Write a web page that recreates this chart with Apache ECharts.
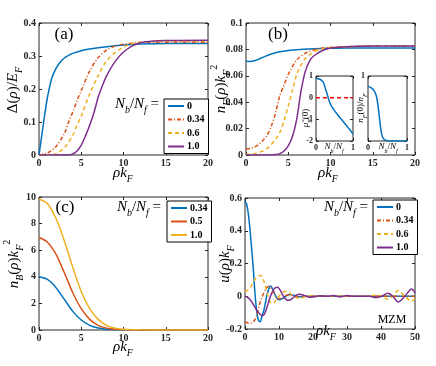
<!DOCTYPE html>
<html>
<head>
<meta charset="UTF-8">
<title>MZM profiles</title>
<style>
  body { margin:0; padding:0; background:#fff; }
  #main { width:436px; height:366px; }
</style>
</head>
<body>
<div id="main"></div>
<script src="https://cdn.jsdelivr.net/npm/echarts@6/dist/echarts.min.js"></script>
<script>
var SERIF = 'Liberation Serif';
var BLUE = '#0072BD', ORANGE = '#D95319', YELLOW = '#EDB120', PURPLE = '#7E2F8E';

// (a) gap profile Delta(rho)/E_F
var aX0 = [0,0.25,0.5,0.75,1,1.5,2,2.5,3,3.5,4,5,6,8,10,12,15,20];
var aY0 = [0,0.045,0.09,0.135,0.175,0.232,0.262,0.281,0.294,0.302,0.308,0.316,0.321,0.328,0.333,0.336,0.338,0.338];
var aX1 = [0,1,2,3,3.5,4,4.5,5,6,7,8,9,10,11,12,14,16,20];
var aY1 = [0,0.006,0.025,0.065,0.1,0.13,0.165,0.195,0.255,0.295,0.318,0.33,0.336,0.339,0.341,0.342,0.342,0.342];
var aX2 = [0,1,2,3,4,4.5,5,6,7,8,9,10,11,12,14,16,20];
var aY2 = [0,0,0.004,0.022,0.06,0.09,0.118,0.185,0.24,0.285,0.31,0.327,0.337,0.342,0.344,0.345,0.345];
var aX3 = [0,1,2,3,3.5,4,4.5,5,5.5,6,6.5,7,7.5,8,9,10,11,12,13,15,20];
var aY3 = [0,0,0,0,0,0.003,0.012,0.03,0.058,0.09,0.128,0.175,0.21,0.24,0.283,0.312,0.33,0.34,0.344,0.347,0.348];

// (b) fermion density n_F(rho) k_F^2
var bX0 = [0,0.5,1,1.5,2,3,4,5,6,8,10,12,15,20];
var bY0 = [0.071,0.0708,0.0714,0.0726,0.074,0.0765,0.0782,0.0792,0.0798,0.0804,0.0808,0.081,0.081,0.081];
var bX1 = [0,0.5,1,1.5,2,2.5,3,3.5,4,4.5,5,5.5,6,7,8,9,10,12,15,20];
var bY1 = [0.0045,0.005,0.006,0.008,0.011,0.015,0.022,0.032,0.045,0.053,0.061,0.067,0.072,0.077,0.0795,0.081,0.0815,0.082,0.0825,0.0825];
var bX2 = [0,1,2,2.5,3,3.5,4,4.5,5,5.5,6,6.5,7,8,9,10,12,15,20];
var bY2 = [0.0005,0.001,0.003,0.005,0.008,0.012,0.017,0.026,0.037,0.049,0.061,0.068,0.073,0.078,0.0805,0.0815,0.082,0.0825,0.0825];
var bX3 = [0,3,3.5,4,4.5,5,5.5,6,6.5,7,7.5,8,9,10,11,12,15,20];
var bY3 = [0,0,0.0003,0.001,0.003,0.007,0.014,0.027,0.048,0.063,0.071,0.075,0.079,0.081,0.0817,0.082,0.0825,0.0825];

// insets of (b): mu_F(0) and n_F(0)/n_F versus N_b/N_f
var i1X = [0,0.05,0.1,0.15,0.2,0.25,0.3,0.35,0.4,0.5,0.6,0.7,0.8,0.9,1];
var i1Y = [0.88,0.87,0.85,0.8,0.7,0.45,0.18,-0.12,-0.33,-0.6,-0.82,-1.03,-1.24,-1.45,-1.68];
var i1RefX = [0,1];
var i1RefY = [0,0];
var i2X = [0,0.05,0.1,0.15,0.2,0.23,0.26,0.29,0.32,0.35,0.38,0.42,0.5,0.6,1];
var i2Y = [0.84,0.83,0.81,0.78,0.72,0.65,0.53,0.38,0.22,0.11,0.05,0.02,0.005,0,0];

// (c) boson density n_B(rho) k_F^2
var cX = [0,1,2,3,4,5,6,7,8,9,10,12,15,20];
var cY0 = [4.0,3.8,3.2,2.3,1.4,0.75,0.35,0.15,0.06,0.02,0.01,0,0,0];
var cY1 = [6.95,6.6,5.7,4.3,2.8,1.6,0.8,0.35,0.14,0.05,0.02,0,0,0];
var cY2 = [9.85,9.5,8.4,6.7,4.7,2.9,1.6,0.8,0.35,0.14,0.05,0.01,0,0];

// (d) MZM wave function u(rho) k_F
var dX0 = [0,0.5,1,1.5,2,2.5,3,3.5,4,4.5,5,5.5,6,6.5,7,7.5,8,8.5,9,9.5,10,11,12,13,14,15,16,18,20,25,30,35,40,45,50];
var dY0 = [0.58,0.56,0.5,0.4,0.28,0.15,0.0,-0.1,-0.15,-0.155,-0.12,-0.09,-0.04,0.01,0.045,0.062,0.05,0.025,0.002,-0.015,-0.022,-0.015,0,0.01,0.008,0.002,-0.003,0,0,0,0,0,0,0,0];
var dY1 = [-0.155,-0.16,-0.163,-0.165,-0.163,-0.155,-0.14,-0.11,-0.07,-0.035,-0.005,0.02,0.04,0.055,0.06,0.055,0.04,0.02,0.0,-0.012,-0.015,-0.008,0.005,0.008,0.003,-0.002,-0.003,0,0,0,0,0,0,0,0];
var dX2 = [0,1,2,3,4,4.5,5,5.5,6,6.5,7,7.5,8,8.5,9,10,11,12,13,14,15,16,17,18,20,22,25,30,35,36.7,38.5,40.2,42,43.5,45,47,49,50];
var dY2 = [0.028,0.04,0.07,0.105,0.125,0.127,0.12,0.095,0.06,0.02,-0.015,-0.038,-0.045,-0.04,-0.028,0.0,0.022,0.03,0.02,0.005,-0.008,-0.012,-0.008,0,0.004,0,0,0,0,0,0.008,0,-0.018,0,0.035,0,-0.03,-0.015];
var dX3 = [0,1,2,3,4,5,5.5,6,6.5,7,7.5,8,8.5,9,9.5,10,10.5,11,12,12.5,13,14,15,16,17,18,19,20,22,24,26,28,30,32,35,36.7,38.5,40.2,42,43.5,45,47,49,50];
var dY3 = [0,-0.01,-0.035,-0.07,-0.1,-0.117,-0.115,-0.095,-0.065,-0.03,0.0,0.025,0.042,0.052,0.055,0.048,0.032,0.012,-0.018,-0.025,-0.025,-0.012,0.005,0.012,0.008,0,-0.006,-0.005,0.003,0,0.004,-0.003,0.004,0,0,0,-0.008,0,0.018,0,-0.035,0,0.045,0.02];

function zip(xs, ys) {
  return xs.map(function (x, i) { return [x, ys[i]]; });
}

var grids = [
  {left: 39, top: 23, width: 169, height: 132},   // a
  {left: 246, top: 23, width: 169, height: 132},  // b
  {left: 39, top: 197, width: 169, height: 133},  // c
  {left: 245, top: 198, width: 170, height: 131}, // d
  {left: 316, top: 76, width: 37, height: 65},    // inset 1
  {left: 368, top: 76, width: 39, height: 65}     // inset 2
].map(function (g) {
  return Object.assign({show: true, borderColor: '#262626', borderWidth: 1, backgroundColor: '#fff', containLabel: false}, g);
});

var xAxes = [], yAxes = [];
function frame(gi, xr, yr, fs, xFmt, yFmt) {
  var tick = {inside: true, length: 3, lineStyle: {color: '#262626', width: 1}};
  var lab = {fontFamily: SERIF, fontWeight: 'bold', fontSize: fs, color: '#262626', margin: 3};
  var base = {gridIndex: gi, type: 'value', axisLine: {show: false, onZero: false}, splitLine: {show: false}, axisTick: tick};
  xAxes.push(Object.assign({}, base, {position: 'bottom', min: xr[0], max: xr[1], interval: xr[2],
    axisLabel: Object.assign({formatter: xFmt}, lab)}));
  xAxes.push(Object.assign({}, base, {position: 'top', min: xr[0], max: xr[1], interval: xr[2], axisLabel: {show: false}}));
  yAxes.push(Object.assign({}, base, {position: 'left', min: yr[0], max: yr[1], interval: yr[2],
    axisLabel: Object.assign({formatter: yFmt}, lab)}));
  yAxes.push(Object.assign({}, base, {position: 'right', min: yr[0], max: yr[1], interval: yr[2], axisLabel: {show: false}}));
  return {x: xAxes.length - 2, y: yAxes.length - 2};
}

var A = frame(0, [0, 20, 5], [0, 0.4, 0.1], 10);
var B = frame(1, [0, 20, 5], [0, 0.1, 0.02], 10);
var C = frame(2, [0, 20, 5], [0, 10, 2], 10);
var D = frame(3, [0, 50, 10], [-0.2, 0.6, 0.2], 10);
var I1 = frame(4, [0, 1, 1], [-2, 1, 1], 8);
var I2 = frame(5, [0, 1, 1], [0, 1, 1], 8, null, function (v) { return v === 0 ? '' : v; });

var dashDot = [4, 2, 1, 2];
var dashed = [4, 3];
function line(name, ax, data, color, type) {
  return {
    name: name, type: 'line', xAxisIndex: ax.x, yAxisIndex: ax.y, data: data,
    symbol: 'none', smooth: 0.3, animation: false,
    lineStyle: {color: color, width: 1.5, type: type || 'solid'},
    itemStyle: {color: color}
  };
}

var series = [
  line('a:0', A, zip(aX0, aY0), BLUE),
  line('a:0.34', A, zip(aX1, aY1), ORANGE, dashDot),
  line('a:0.6', A, zip(aX2, aY2), YELLOW, dashed),
  line('a:1.0', A, zip(aX3, aY3), PURPLE),
  line('b:0', B, zip(bX0, bY0), BLUE),
  line('b:0.34', B, zip(bX1, bY1), ORANGE, dashDot),
  line('b:0.6', B, zip(bX2, bY2), YELLOW, dashed),
  line('b:1.0', B, zip(bX3, bY3), PURPLE),
  line('i1', I1, zip(i1X, i1Y), BLUE),
  line('i1ref', I1, zip(i1RefX, i1RefY), '#FF0000', [4, 3]),
  line('i2', I2, zip(i2X, i2Y), BLUE),
  line('c:0.34', C, zip(cX, cY0), BLUE),
  line('c:0.5', C, zip(cX, cY1), ORANGE),
  line('c:1.0', C, zip(cX, cY2), YELLOW),
  line('d:0', D, zip(dX0, dY0), BLUE),
  line('d:0.34', D, zip(dX0, dY1), ORANGE, dashDot),
  line('d:0.6', D, zip(dX2, dY2), YELLOW, dashed),
  line('d:1.0', D, zip(dX3, dY3), PURPLE)
];

function legendAt(names, left, top) {
  return {
    data: names, orient: 'vertical', left: left, top: top,
    itemWidth: 16, itemHeight: 8, itemGap: 3.5, selectedMode: false,
    padding: [2, 4, 2, 3], borderColor: '#000', borderWidth: 1, backgroundColor: '#fff',
    itemStyle: {opacity: 0},
    textStyle: {fontFamily: SERIF, fontWeight: 'bold', fontSize: 10, color: '#000', padding: [0, 0, 0, -2]},
    formatter: function (n) { return n.split(':')[1]; }
  };
}

function richSet(fs) {
  var lh = Math.round(fs * 1.5);
  var base = {fontFamily: SERIF, fontSize: fs, lineHeight: lh, color: '#000'};
  var small = Math.round(fs * 0.68);
  return {
    i: Object.assign({}, base, {fontStyle: 'italic'}),
    r: Object.assign({}, base),
    s: {fontFamily: SERIF, fontStyle: 'italic', fontSize: small, lineHeight: small + 1, verticalAlign: 'bottom', color: '#000'},
    p: {fontFamily: SERIF, fontSize: small, lineHeight: small + 1, verticalAlign: 'top', color: '#000'}
  };
}

function label(text, x, y, fs, rotate) {
  return {
    type: 'text', x: x, y: y, rotation: rotate ? Math.PI / 2 : 0, z: 100,
    style: {text: text, rich: richSet(fs), align: 'center', verticalAlign: 'middle'}
  };
}
function plain(text, x, y, fs) {
  return {
    type: 'text', x: x, y: y, z: 100,
    style: {text: text, fontFamily: SERIF, fontSize: fs, fill: '#000', align: 'center', verticalAlign: 'middle'}
  };
}

var RHO_KF = '{i|ρk}{s|F}';
var NBNF = '{i|N}{s|b}{r|/}{i|N}{s|f}';

var graphics = [
  label('{r|Δ(}{i|ρ}{r|)/}{i|E}{s|F}', 13, 90, 15, true),
  label('{i|n}{s|F}{r|(}{i|ρ}{r|)}{i|k}{s|F}{p|2}', 221, 89, 15, true),
  label('{i|n}{s|B}{r|(}{i|ρ}{r|)}{i|k}{s|F}{p|2}', 14, 264, 15, true),
  label('{i|u}{r|(}{i|ρ}{r|)}{i|k}{s|F}', 225, 264, 15, true),
  label(RHO_KF, 123, 173, 15),
  label(RHO_KF, 328, 173, 15),
  label(RHO_KF, 123, 347, 15),
  label(RHO_KF, 326, 331, 15),
  label(NBNF + '{r| =}', 137, 104, 15),
  label(NBNF + '{r| =}', 139, 207, 15),
  label(NBNF + '{r| =}', 346, 207, 15),
  label('{i|μ̃}{s|F}{r|(0)}', 306, 118, 9, true),
  label('{i|n}{s|F}{r|(0)/}{i|n}{s|F}', 361, 108, 9, true),
  label(NBNF, 334, 147, 9),
  label(NBNF, 388, 147, 9),
  plain('(a)', 64, 35, 17),
  plain('(b)', 278, 35, 17),
  plain('(c)', 65, 208, 17),
  plain('MZM', 392, 320, 12)
];

var chart = echarts.init(document.getElementById('main'), null, {renderer: 'canvas'});
chart.setOption({
  animation: false,
  backgroundColor: '#fff',
  grid: grids,
  xAxis: xAxes,
  yAxis: yAxes,
  legend: [
    legendAt(['a:0', 'a:0.34', 'a:0.6', 'a:1.0'], 164, 99),
    legendAt(['c:0.34', 'c:0.5', 'c:1.0'], 167, 201),
    legendAt(['d:0', 'd:0.34', 'd:0.6', 'd:1.0'], 373, 200)
  ],
  series: series,
  graphic: graphics
});
</script>
</body>
</html>
